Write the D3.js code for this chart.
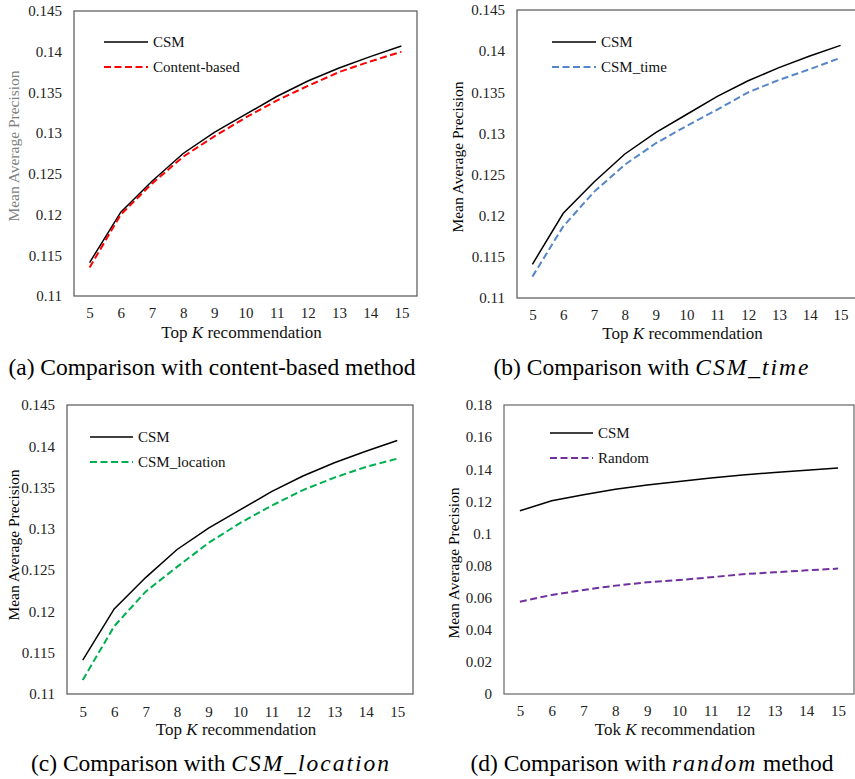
<!DOCTYPE html>
<html>
<head>
<meta charset="utf-8">
<script src="https://cdn.jsdelivr.net/npm/d3@7"></script>
<style>
  html, body { margin: 0; padding: 0; background: #fff; }
  svg, svg text { font-family: "Liberation Serif", "Times New Roman", Tinos, "DejaVu Serif", serif; }
</style>
</head>
<body>
<svg id="chart" width="855" height="779"></svg>
<script>
// Top-K values on the horizontal axis
const kValues = [5, 6, 7, 8, 9, 10, 11, 12, 13, 14, 15];

// Mean Average Precision per method
const csm          = [0.1141, 0.1203, 0.1241, 0.1275, 0.1301, 0.1323, 0.1345, 0.1364, 0.1380, 0.1394, 0.1407];
const contentBased = [0.1135, 0.1200, 0.1238, 0.1271, 0.1296, 0.1319, 0.1340, 0.1358, 0.1375, 0.1388, 0.1400];
const csmTime      = [0.1126, 0.1187, 0.1229, 0.1262, 0.1288, 0.1309, 0.1329, 0.1350, 0.1365, 0.1378, 0.1392];
const csmLocation  = [0.1117, 0.1182, 0.1224, 0.1254, 0.1283, 0.1307, 0.1328, 0.1347, 0.1362, 0.1375, 0.1385];
const randomMethod = [0.0575, 0.0617, 0.0648, 0.0675, 0.0696, 0.0710, 0.0727, 0.0746, 0.0758, 0.0770, 0.0781];

// Y-axis ticks
const yTicksNarrow = [0.11, 0.115, 0.12, 0.125, 0.13, 0.135, 0.14, 0.145];
const yTicksWide   = [0, 0.02, 0.04, 0.06, 0.08, 0.1, 0.12, 0.14, 0.16, 0.18];

// Text
const yTitle = "Mean Average Precision";
const captions = [
  { pre: "(a) Comparison with content-based method", ital: "", post: "" },
  { pre: "(b) Comparison with ", ital: "CSM_time", post: "" },
  { pre: "(c) Comparison with ", ital: "CSM_location", post: "" },
  { pre: "(d) Comparison with ", ital: "random", post: " method" }
];
const xTitles = [["Top ", "K", " recommendation"], ["Top ", "K", " recommendation"],
                 ["Top ", "K", " recommendation"], ["Tok ", "K", " recommendation"]];

const SERIF = "'Liberation Serif', 'Times New Roman', Tinos, 'DejaVu Serif', serif";

const styles = {
  csm:      { color: "#000000", dash: null,  width: 1.5, label: "CSM" },
  content:  { color: "#ff0000", dash: "7,3.5", width: 2, label: "Content-based" },
  time:     { color: "#5586c8", dash: "7,3.5", width: 2, label: "CSM_time" },
  location: { color: "#00b050", dash: "7,3.5", width: 2, label: "CSM_location" },
  random:   { color: "#7030a0", dash: "7,3.5", width: 2, label: "Random" }
};

const panels = [
  { frame: [74, 11, 417, 296], ticks: yTicksNarrow, domain: [0.11, 0.145],
    series: [["csm", csm], ["content", contentBased]], frameColor: "#555",
    yTitleColor: "#808080", yTitlePos: [14, 146], xTitleY: 338, tickY: 318,
    legend: [104, 148, 42, 25], caption: [212, 375] },
  { frame: [517, 10, 856, 298], ticks: yTicksNarrow, domain: [0.11, 0.145],
    series: [["csm", csm], ["time", csmTime]], frameColor: "#555",
    yTitleColor: "#000", yTitlePos: [458, 157], xTitleY: 339, tickY: 320,
    legend: [552, 596, 42, 25], caption: [652, 375] },
  { frame: [67, 405, 413, 694], ticks: yTicksNarrow, domain: [0.11, 0.145],
    series: [["csm", csm], ["location", csmLocation]], frameColor: "#555",
    yTitleColor: "#000", yTitlePos: [14, 545], xTitleY: 735, tickY: 717,
    legend: [90, 133, 437, 25], caption: [211, 771] },
  { frame: [504, 405, 854, 694], ticks: yTicksWide, domain: [0, 0.18],
    series: [["csm", csm], ["random", randomMethod]], frameColor: "#666",
    yTitleColor: "#000", yTitlePos: [454, 563], xTitleY: 735, tickY: 716,
    legend: [550, 593, 433, 25], caption: [652, 771] }
];

const svg = d3.select("#chart").attr("font-family", SERIF);
const fmt = d => String(+d.toFixed(3));

panels.forEach((p, i) => {
  const [x0, y0, x1, y1] = p.frame;
  const g = svg.append("g").attr("font-family", SERIF);

  const x = d3.scalePoint().domain(kValues).range([x0, x1]).padding(0.5);
  const y = d3.scaleLinear().domain(p.domain).range([y1, y0]);

  // plot frame
  g.append("rect")
    .attr("x", x0).attr("y", y0).attr("width", x1 - x0).attr("height", y1 - y0)
    .attr("fill", "none").attr("stroke", p.frameColor).attr("stroke-width", 1.2);

  // y axis labels
  const ya = g.append("g").attr("transform", `translate(${x0},0)`)
    .call(d3.axisLeft(y).tickValues(p.ticks).tickFormat(fmt).tickSize(0).tickPadding(12));
  ya.attr("font-family", SERIF);
  ya.select(".domain").remove();
  ya.selectAll("text").attr("font-size", 15).attr("fill", "#222");

  // x axis labels
  const xa = g.append("g").attr("transform", `translate(0,${y1})`)
    .call(d3.axisBottom(x).tickSize(0).tickPadding(0));
  xa.attr("font-family", SERIF);
  xa.select(".domain").remove();
  xa.selectAll("text").attr("font-size", 15).attr("fill", "#222")
    .attr("dy", null).attr("y", p.tickY - y1);

  // series lines
  const line = d3.line().x((d, j) => x(kValues[j])).y(d => y(d));
  p.series.forEach(([key, vals]) => {
    const s = styles[key];
    g.append("path").datum(vals)
      .attr("d", line).attr("fill", "none")
      .attr("stroke", s.color).attr("stroke-width", s.width)
      .attr("stroke-dasharray", s.dash);
  });

  // legend
  const [lx0, lx1, ly, lstep] = p.legend;
  p.series.forEach(([key], j) => {
    const s = styles[key];
    const yy = ly + j * lstep;
    g.append("line").attr("x1", lx0).attr("x2", lx1).attr("y1", yy).attr("y2", yy)
      .attr("stroke", s.color).attr("stroke-width", s.width).attr("stroke-dasharray", s.dash);
    g.append("text").attr("x", lx1 + 5).attr("y", yy + 5)
      .attr("font-size", 15).attr("fill", "#111").text(s.label);
  });

  // y title
  g.append("text")
    .attr("transform", `translate(${p.yTitlePos[0]},${p.yTitlePos[1]}) rotate(-90)`)
    .attr("text-anchor", "middle").attr("dy", "0.35em")
    .attr("font-size", 15.5).attr("fill", p.yTitleColor).text(yTitle);

  // x title
  const xt = g.append("text").attr("x", (x0 + x1) / 2 - 4).attr("y", p.xTitleY)
    .attr("text-anchor", "middle").attr("font-size", 17).attr("fill", "#111");
  xt.append("tspan").text(xTitles[i][0]);
  xt.append("tspan").attr("font-style", "italic").text(xTitles[i][1]);
  xt.append("tspan").text(xTitles[i][2]);

  // caption
  const c = captions[i];
  const ct = g.append("text").attr("x", p.caption[0]).attr("y", p.caption[1])
    .attr("text-anchor", "middle").attr("font-size", 23.5).attr("fill", "#000");
  ct.append("tspan").text(c.pre);
  if (c.ital) ct.append("tspan").attr("font-style", "italic").attr("letter-spacing", 2).text(c.ital);
  if (c.post) ct.append("tspan").text(c.post);
});
</script>
</body>
</html>
